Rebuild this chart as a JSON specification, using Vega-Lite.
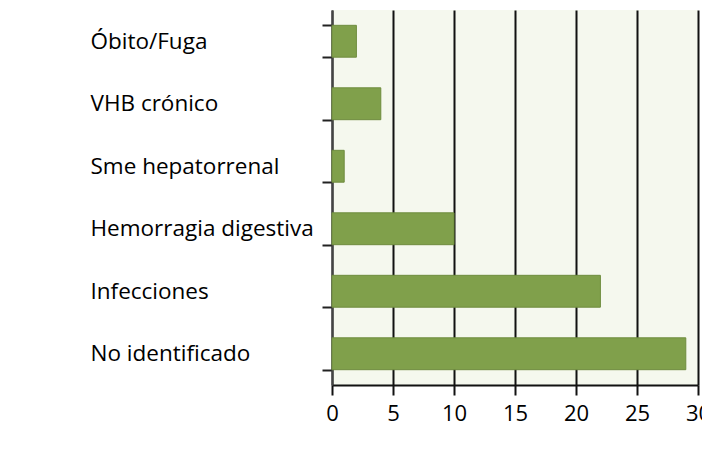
{
  "$schema": "https://vega.github.io/schema/vega-lite/v6.json",
  "autosize": "none",
  "width": 366,
  "height": 375,
  "padding": {"left": 332, "top": 10, "right": 4, "bottom": 79},
  "background": "white",
  "config": {
    "view": {"fill": "#F5F8EE", "stroke": null},
    "font": "Open Sans"
  },
  "data": {
    "values": [
      {"causa": "Óbito/Fuga", "n": 2},
      {"causa": "VHB crónico", "n": 4},
      {"causa": "Sme hepatorrenal", "n": 1},
      {"causa": "Hemorragia digestiva", "n": 10},
      {"causa": "Infecciones", "n": 22},
      {"causa": "No identificado", "n": 29}
    ]
  },
  "mark": {"type": "bar", "color": "#80A04B", "stroke": "#6E8C3E", "strokeWidth": 1},
  "encoding": {
    "y": {
      "field": "causa", "type": "nominal", "sort": null,
      "scale": {"paddingInner": 0.49, "paddingOuter": 0.245},
      "axis": {
        "title": null, "tickBand": "extent", "labelAlign": "left",
        "labelPadding": 232, "tickSize": 10, "tickColor": "#222", "tickWidth": 2,
        "domainColor": "#444", "domainWidth": 2,
        "labelFontSize": 22.5, "labelColor": "#000", "labelFont": "Open Sans", "labelLimit": 300
      }
    },
    "x": {
      "field": "n", "type": "quantitative",
      "scale": {"domain": [0, 30], "nice": false},
      "axis": {
        "title": null, "values": [0, 5, 10, 15, 20, 25, 30], "tickSize": 10,
        "tickColor": "#111", "tickWidth": 2, "domainColor": "#111", "domainWidth": 2,
        "grid": true, "gridColor": "#111", "gridWidth": 2,
        "labelFontSize": 22, "labelColor": "#000", "labelPadding": 8, "labelFlush": false
      }
    }
  }
}
